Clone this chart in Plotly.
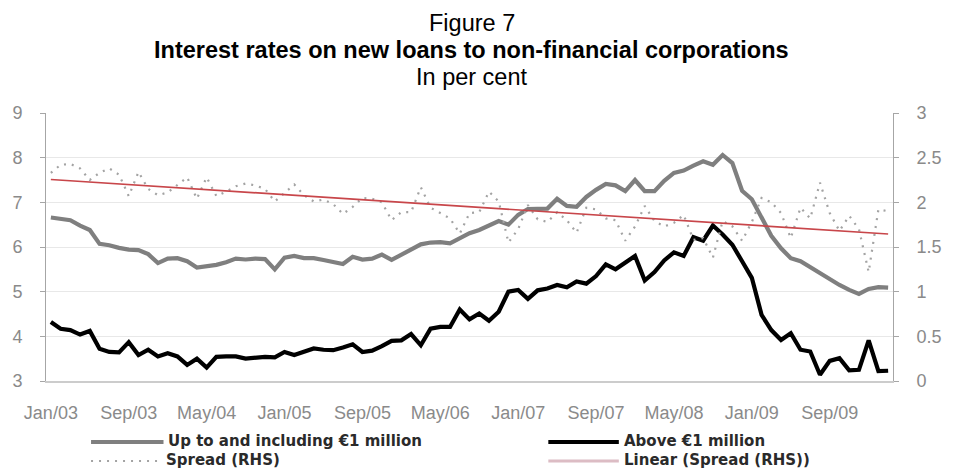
import numpy as np
import pandas as pd
import plotly.graph_objects as go

# Monthly observations, Jan 2003 - Mar 2010
months = pd.period_range("2003-01", periods=87, freq="M").strftime("%b/%y").tolist()

tick_labels = ["Jan/03", "Sep/03", "May/04", "Jan/05", "Sep/05", "May/06",
               "Jan/07", "Sep/07", "May/08", "Jan/09", "Sep/09"]

# Loans up to and including EUR 1 million (per cent)
up_to_1m = [
    6.66, 6.63, 6.60, 6.48, 6.38, 6.07, 6.04, 5.98, 5.94, 5.93,
    5.84, 5.64, 5.74, 5.75, 5.68, 5.54, 5.57, 5.60, 5.66, 5.74,
    5.72, 5.74, 5.73, 5.50, 5.76, 5.80, 5.75, 5.75, 5.71, 5.66,
    5.62, 5.78, 5.72, 5.74, 5.83, 5.71, 5.82, 5.95, 6.06, 6.10,
    6.11, 6.08, 6.20, 6.31, 6.38, 6.48, 6.58, 6.50, 6.72, 6.85,
    6.85, 6.86, 7.08, 6.92, 6.90, 7.12, 7.28, 7.41, 7.38, 7.25,
    7.50, 7.25, 7.25, 7.48, 7.66, 7.71, 7.82, 7.92, 7.84, 8.06,
    7.88, 7.26, 7.07, 6.65, 6.25, 5.97, 5.75, 5.68, 5.55, 5.40,
    5.27, 5.15, 5.04, 4.95, 5.06, 5.10, 5.09,
]

# Loans above EUR 1 million (per cent)
above_1m = [
    4.32, 4.17, 4.14, 4.04, 4.12, 3.72, 3.65, 3.64, 3.87, 3.58,
    3.70, 3.55, 3.62, 3.55, 3.36, 3.50, 3.30, 3.54, 3.55, 3.55,
    3.50, 3.53, 3.54, 3.53, 3.65, 3.58, 3.66, 3.73, 3.70, 3.69,
    3.75, 3.82, 3.65, 3.68, 3.78, 3.90, 3.91, 4.05, 3.80, 4.17,
    4.21, 4.21, 4.60, 4.38, 4.51, 4.35, 4.55, 5.00, 5.04, 4.84,
    5.03, 5.07, 5.15, 5.10, 5.23, 5.18, 5.35, 5.61, 5.50, 5.65,
    5.80, 5.25, 5.44, 5.70, 5.88, 5.80, 6.22, 6.14, 6.48, 6.28,
    6.05, 5.68, 5.31, 4.48, 4.14, 3.92, 4.07, 3.70, 3.66, 3.14,
    3.45, 3.51, 3.24, 3.25, 3.91, 3.22, 3.23,
]

# Spread between the two rates (percentage points, right-hand scale)
spread = [
    2.33, 2.42, 2.43, 2.38, 2.25, 2.33, 2.38, 2.31, 2.07, 2.34,
    2.15, 2.08, 2.11, 2.19, 2.28, 2.04, 2.28, 2.07, 2.12, 2.18,
    2.21, 2.19, 2.15, 2.01, 2.11, 2.20, 2.08, 2.01, 2.03, 1.98,
    1.87, 1.95, 2.05, 2.04, 2.00, 1.80, 1.89, 1.89, 2.17, 1.94,
    1.88, 1.82, 1.65, 1.88, 1.89, 2.12, 2.01, 1.55, 1.70, 1.97,
    1.81, 1.78, 1.89, 1.80, 1.66, 1.94, 1.92, 1.82, 1.80, 1.57,
    1.73, 1.96, 1.79, 1.73, 1.77, 1.86, 1.58, 1.60, 1.38, 1.79,
    1.73, 1.57, 1.78, 2.05, 2.00, 1.88, 1.60, 1.94, 1.82, 2.22,
    1.88, 1.68, 1.85, 1.70, 1.22, 1.92, 1.90,
]

# Least-squares linear trend of the spread
idx = np.arange(len(spread))
trend = np.polyval(np.polyfit(idx, spread, 1), idx)

W, H = 954, 472
L, R, T, B = 42, 907, 113, 381  # plot area edges in pixels
PW, PH = R - L, B - T


def px(x):
    return (x - L) / PW


def py(y):
    return (B - y) / PH


TICK_FONT = dict(family="Arial, Liberation Sans", size=18, color="#8a8a8a")
GRAY = "#7f7f7f"
DOT_GRAY = "#a3a3a3"
RED = "#c8464a"

fig = go.Figure()
fig.add_trace(go.Scatter(x=months, y=up_to_1m, mode="lines", name="Up to and including €1 million",
                         line=dict(color=GRAY, width=4.2)))
fig.add_trace(go.Scatter(x=months, y=above_1m, mode="lines", name="Above €1 million",
                         line=dict(color="#000000", width=4.2)))
fig.add_trace(go.Scatter(x=months, y=spread, mode="lines", name="Spread (RHS)", yaxis="y2",
                         line=dict(color=DOT_GRAY, width=2.2, dash="2px,6px")))
fig.add_trace(go.Scatter(x=months, y=trend, mode="lines", name="Linear (Spread (RHS))", yaxis="y2",
                         line=dict(color=RED, width=1.7)))

# Title block
title_font = dict(family="Arial, Liberation Sans", size=23.5, color="#000000")
for text, y in [("Figure 7", 23), ("<b>Interest rates on new loans to non-financial corporations</b>", 50),
                ("In per cent", 77)]:
    fig.add_annotation(text=text, xref="paper", yref="paper", x=px(W / 2), y=py(y),
                       xanchor="center", yanchor="middle", showarrow=False, font=title_font)

# Legend drawn below the axis: two columns, two rows
legend_font = dict(family="DejaVu Sans", size=15, color="#2a2a2a")
legend_items = [
    ("Up to and including €1 million", 88, 162, 442, dict(color=GRAY, width=4)),
    ("Above €1 million", 555, 627, 442, dict(color="#000000", width=4)),
    ("Spread (RHS)", 88, 160, 461, dict(color=DOT_GRAY, width=2, dash="2px,6px")),
    ("Linear (Spread (RHS))", 555, 627, 461, dict(color="#dcbcc4", width=3)),
]
for label, x0, x1, y, style in legend_items:
    fig.add_shape(type="line", xref="paper", yref="paper", x0=px(x0), x1=px(x1),
                  y0=py(y), y1=py(y), line=style)
    fig.add_annotation(text=f"<b>{label}</b>", xref="paper", yref="paper", x=px(x1 + 3), y=py(y - 1),
                       xanchor="left", yanchor="middle", showarrow=False, font=legend_font)

fig.update_layout(
    width=W, height=H,
    margin=dict(l=L, r=W - R, t=T, b=H - B, pad=0),
    paper_bgcolor="#ffffff", plot_bgcolor="#ffffff",
    showlegend=False,
    xaxis=dict(type="category", range=[-0.5, len(months) - 0.5], tickvals=tick_labels, ticktext=tick_labels,
               showgrid=False, showline=True, linecolor="#cccccc", linewidth=2, ticks="",
               tickfont=TICK_FONT, ticklabelstandoff=14, zeroline=False),
    yaxis=dict(range=[3, 9], tick0=3, dtick=1, showgrid=True, gridcolor="#e8e8e8", gridwidth=1,
               showline=True, linecolor="#a6a6a6", linewidth=1, ticks="outside", ticklen=5,
               tickcolor="#a6a6a6", tickfont=TICK_FONT, ticklabelstandoff=14, zeroline=False),
    yaxis2=dict(range=[0, 3], tick0=0, dtick=0.5, overlaying="y", side="right", showgrid=False,
                showline=True, linecolor="#a6a6a6", linewidth=1, ticks="outside", ticklen=5,
                tickcolor="#a6a6a6", tickfont=TICK_FONT, ticklabelstandoff=14, zeroline=False),
)

fig.write_html("out.html")
